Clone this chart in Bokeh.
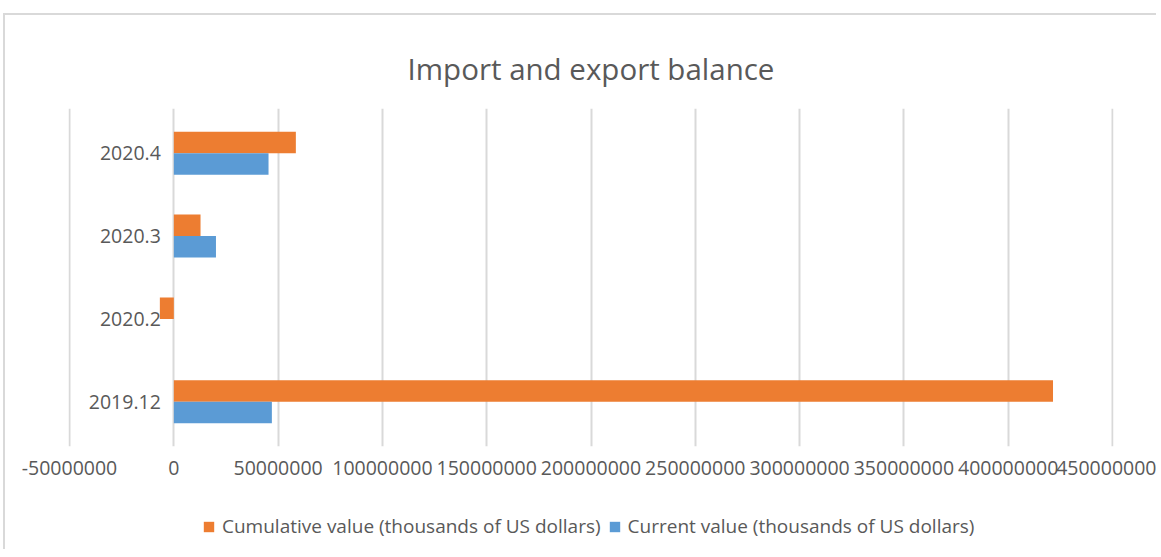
from bokeh.plotting import figure
from bokeh.layouts import column
from bokeh.models import (ColumnDataSource, Range1d, FactorRange, FixedTicker,
                          NumeralTickFormatter, Legend, LegendItem)
from bokeh.transform import dodge
from bokeh.embed import file_html
from bokeh.resources import INLINE
from bokeh.core.properties import value

# ---- data ----
categories = ["2019.12", "2020.2", "2020.3", "2020.4"]
cumulative = [421500000, -6700000, 12800000, 58500000]
current = [47000000, 0, 20200000, 45400000]
x_ticks = [-50000000, 0, 50000000, 100000000, 150000000, 200000000,
           250000000, 300000000, 350000000, 400000000, 450000000]
series_names = ["Cumulative value (thousands of US dollars)",
                "Current value (thousands of US dollars)"]
colors = ["#ED7D31", "#5B9BD5"]

FONT = "Open Sans"
TXT = "#595959"

src = ColumnDataSource(dict(cat=categories, cum=cumulative, cur=current,
                            zero=[0] * len(categories)))

pad = 500000  # small range padding so the edge grid lines stay visible
p = figure(frame_width=1045, frame_height=338, output_backend="svg",
           toolbar_location=None,
           y_range=FactorRange(*categories, range_padding=0.02),
           x_range=Range1d(x_ticks[0] - pad, x_ticks[-1] + pad),
           min_border_left=63, min_border_right=43, min_border_top=93,
           min_border_bottom=45,
           title="Import and export balance")

p.title.text_font = FONT
p.title.text_font_size = "29.5px"
p.title.text_font_style = "normal"
p.title.text_color = TXT
p.title.align = "center"
p.title.vertical_align = "top"
p.title.standoff = 36

r1 = p.hbar(y=dodge("cat", 0.13, range=p.y_range), left="zero", right="cum",
            height=0.26, fill_color=colors[0], line_color=None, source=src)
r2 = p.hbar(y=dodge("cat", -0.13, range=p.y_range), left="zero", right="cur",
            height=0.26, fill_color=colors[1], line_color=None, source=src)

# category labels at the zero axis
p.text(x="zero", y="cat", text="cat", source=src, x_offset=-13,
       text_align="right", text_baseline="middle", text_font=value(FONT),
       text_font_size="19.5px", text_color=TXT)

p.yaxis.visible = False
p.ygrid.grid_line_color = None

p.xaxis.ticker = FixedTicker(ticks=x_ticks)
p.xaxis.formatter = NumeralTickFormatter(format="0")
p.xaxis.axis_line_color = None
p.xaxis.major_tick_line_color = None
p.xaxis.minor_tick_line_color = None
p.xaxis.major_label_standoff = 8
p.xaxis.major_label_text_font = FONT
p.xaxis.major_label_text_font_size = "19.5px"
p.xaxis.major_label_text_color = TXT

p.xgrid.ticker = FixedTicker(ticks=x_ticks)
p.xgrid.grid_line_color = "#d9d9d9"
p.xgrid.grid_line_width = 2
p.outline_line_color = None

# legend strip below the chart (hidden renderers only supply the swatches)
p2 = figure(width=1151, height=58, output_backend="svg", toolbar_location=None,
            x_axis_type=None, y_axis_type=None, min_border=0)
p2.outline_line_color = None
p2.grid.visible = False
l1 = p2.hbar(y="zero", left="zero", right="cum", height=1,
             fill_color=colors[0], line_color=None, source=src, visible=False)
l2 = p2.hbar(y="zero", left="zero", right="cur", height=1,
             fill_color=colors[1], line_color=None, source=src, visible=False)

legend = Legend(items=[LegendItem(label=series_names[0], renderers=[l1]),
                       LegendItem(label=series_names[1], renderers=[l2])],
                orientation="horizontal", location=(134, 10),
                label_text_font=FONT, label_text_font_size="19px",
                label_text_color=TXT, glyph_width=13, glyph_height=13,
                spacing=7, label_standoff=7, border_line_color=None,
                background_fill_alpha=0, margin=0, padding=0,
                inactive_fill_alpha=0)
p2.add_layout(legend)

layout = column(p, p2, spacing=0)
layout.styles = {"border-top": "2px solid #d9d9d9", "border-left": "2px solid #d9d9d9",
                 "margin-left": "3px", "margin-top": "13px"}

open("out.html", "w").write(file_html(layout, INLINE))
